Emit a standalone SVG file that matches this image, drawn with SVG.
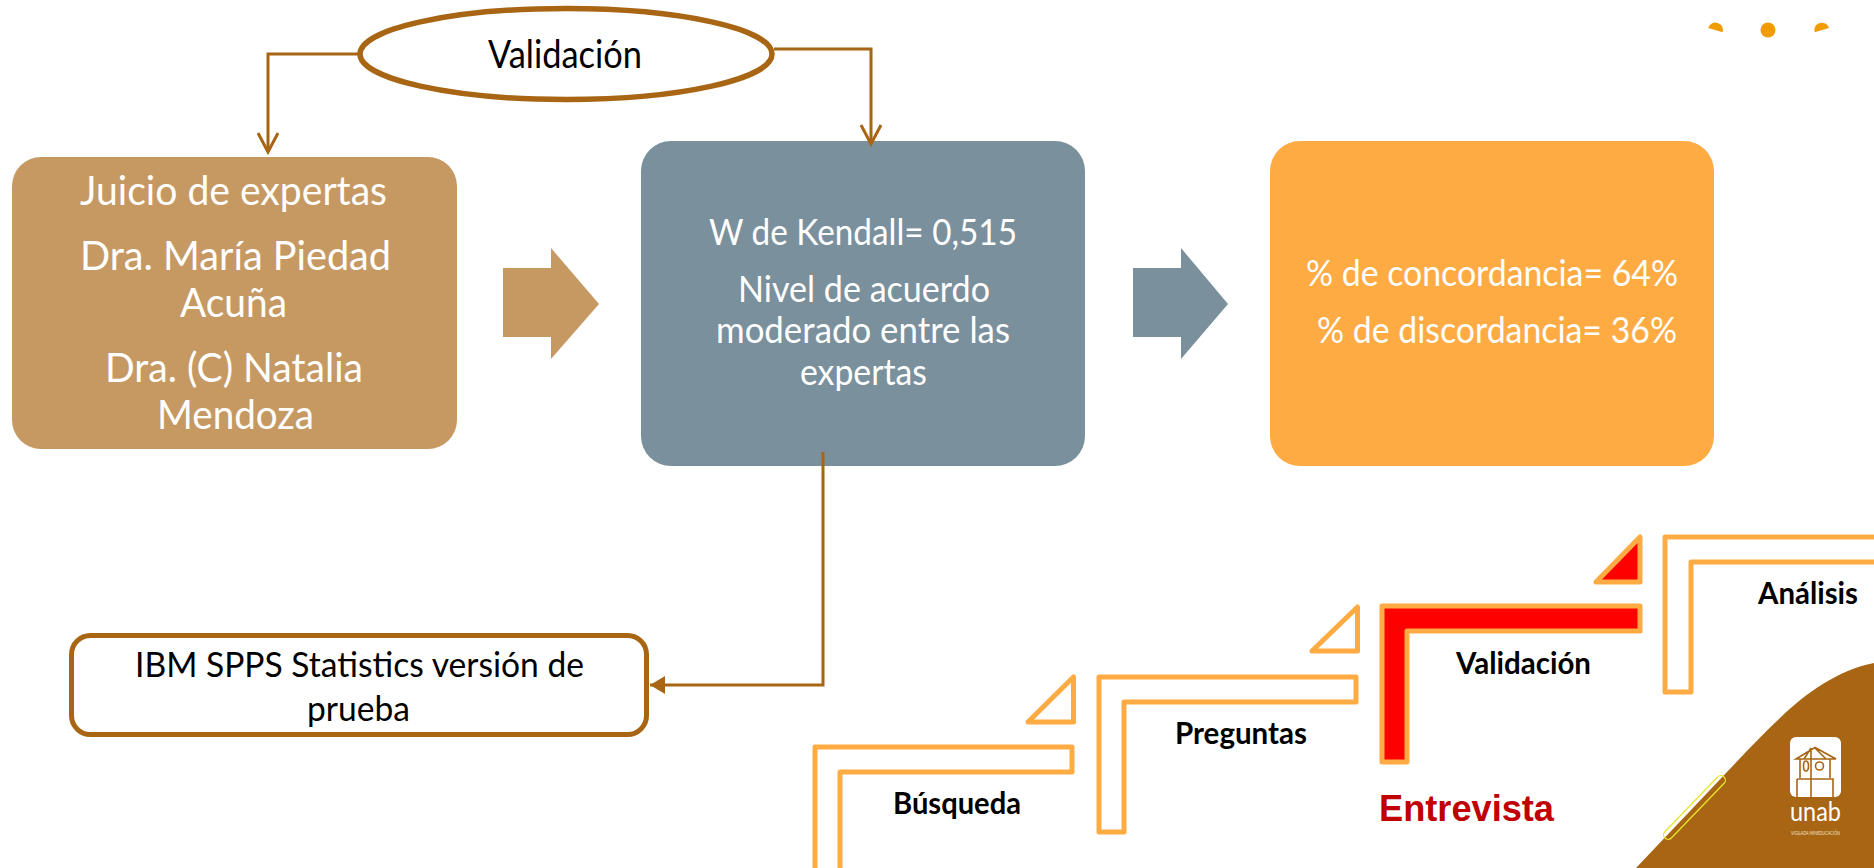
<svg xmlns="http://www.w3.org/2000/svg" width="1874" height="868" viewBox="0 0 1874 868">
<style>
.t{font-family:Lato,"Open Sans","Liberation Sans",sans-serif;text-anchor:start}
.w{fill:#fff;font-size:40px}
.m{fill:#fff;font-size:36px}
.k{fill:#000;font-size:38px}
.l{fill:#000;font-size:35px}
.b{fill:#000;font-size:30px;font-weight:700}
.c{fill:none;stroke:#A86513;stroke-width:3}
.s{fill:none;stroke:#FFAB44;stroke-width:5;stroke-linejoin:round}
.r{fill:#FF0000}
.h{fill:none;stroke:#A86513;stroke-width:1.6}
</style>
<defs>
<marker id="open" markerUnits="userSpaceOnUse" markerWidth="26" markerHeight="26" refX="21" refY="12" orient="auto"><path d="M2 2L21 12L2 22" fill="none" stroke="#A86513" stroke-width="3"/></marker>
<marker id="solid" markerUnits="userSpaceOnUse" markerWidth="18" markerHeight="20" refX="15" refY="9" orient="auto"><path d="M0 0L15 9L0 18Z" fill="#A86513"/></marker>
</defs>
<rect width="1874" height="868" fill="#fff"/>
<g id="dots" fill="#F09C00">
<path d="M1708.2 28A7.5 7.5 0 0 1 1722.7 32.3Z"/>
<circle cx="1768" cy="30" r="7.5"/>
<path d="M1814.6 32.3A7.5 7.5 0 0 1 1829 28Z"/>
</g>
<g id="corner">
<path d="M1636 868L1727 772C1745 753 1762 735 1780 718C1806 693 1838 670 1874 663V868Z" fill="#A86513"/>
<rect x="1652" y="803" width="85" height="9" rx="4.500" transform="rotate(-46 1694.5 807.5)" fill="none" stroke="#E6E62E" stroke-width="1.3"/>
</g>
<g id="logo">
<rect x="1790" y="737" width="51" height="60" rx="6" fill="#fff"/>
<path class="h" d="M1796 759L1815 747.5L1836 759ZM1800 759V778M1830 759V778M1797 779H1833V797M1797 779V797M1811 748V797M1804 759L1811 748M1826 759L1815 748"/>
<ellipse class="h" cx="1806" cy="766" rx="2.500" ry="5"/>
<circle class="h" cx="1819.5" cy="766" r="4"/>
<text class="t" x="1790" y="821" font-size="27" fill="#fff" textLength="51" lengthAdjust="spacingAndGlyphs">unab</text>
<text class="t" x="1791" y="835" font-size="6" fill="#F3E3D0" textLength="49" lengthAdjust="spacingAndGlyphs">VIGILADA MINEDUCACIÓN</text>
</g>
<g id="validacion-oval">
<ellipse cx="566" cy="54" rx="206" ry="45.500" fill="#fff" stroke="#A86513" stroke-width="5.500"/>
<text class="t k" x="488" y="68" textLength="154" lengthAdjust="spacingAndGlyphs">Validación</text>
</g>
<g id="juicio">
<rect x="12" y="157" width="445" height="292" rx="29" fill="#C69963"/>
<g class="t w">
<text x="80" y="205" textLength="307" lengthAdjust="spacingAndGlyphs">Juicio de expertas</text>
<text x="80" y="270" textLength="311" lengthAdjust="spacingAndGlyphs">Dra. María Piedad</text>
<text x="180" y="317" textLength="107" lengthAdjust="spacingAndGlyphs">Acuña</text>
<text x="105" y="382" textLength="258" lengthAdjust="spacingAndGlyphs">Dra. (C) Natalia</text>
<text x="157" y="429" textLength="157" lengthAdjust="spacingAndGlyphs">Mendoza</text>
</g>
</g>
<g id="arrow-1"><path d="M503 268H551V248L599 304L551 359V337H503Z" fill="#C69963"/></g>
<g id="kendall">
<rect x="641" y="141" width="444" height="325" rx="30" fill="#7A909C"/>
<g class="t m">
<text x="709" y="245" textLength="308" lengthAdjust="spacingAndGlyphs">W de Kendall= 0,515</text>
<text x="738" y="302" textLength="252" lengthAdjust="spacingAndGlyphs">Nivel de acuerdo</text>
<text x="716" y="343" textLength="294" lengthAdjust="spacingAndGlyphs">moderado entre las</text>
<text x="800" y="385" textLength="127" lengthAdjust="spacingAndGlyphs">expertas</text>
</g>
</g>
<g id="arrow-2"><path d="M1133 268H1181V248L1228 304L1181 359V337H1133Z" fill="#7A909C"/></g>
<g id="concordancia">
<rect x="1270" y="141" width="444" height="325" rx="30" fill="#FFAB44"/>
<g class="t m">
<text x="1306" y="286" textLength="372" lengthAdjust="spacingAndGlyphs">% de concordancia= 64%</text>
<text x="1317" y="343" textLength="360" lengthAdjust="spacingAndGlyphs">% de discordancia= 36%</text>
</g>
</g>
<g id="spss">
<rect x="71.500" y="635.500" width="575" height="99" rx="19" fill="#fff" stroke="#A86513" stroke-width="5"/>
<text class="t l" x="135" y="677" textLength="449" lengthAdjust="spacingAndGlyphs">IBM SPPS Statistics versión de</text>
<text class="t l" x="307" y="721" textLength="103" lengthAdjust="spacingAndGlyphs">prueba</text>
</g>
<g id="busqueda">
<path class="s" d="M1028 722L1073.500 677V722Z"/>
<path class="s" d="M815 875V747H1072V772H840V875"/>
<text class="t b" x="893" y="814" textLength="128" lengthAdjust="spacingAndGlyphs">Búsqueda</text>
</g>
<g id="preguntas">
<path class="s" d="M1312 651L1357.500 607V651Z"/>
<path class="s" d="M1099 677H1356V702H1124V832H1099Z"/>
<text class="t b" x="1175" y="744" textLength="132" lengthAdjust="spacingAndGlyphs">Preguntas</text>
</g>
<g id="validacion-step">
<path class="s r" d="M1596 582L1640 537V582Z"/>
<path class="s r" d="M1382 606H1640V631H1407V762H1382Z"/>
<text class="t b" x="1456" y="674" textLength="135" lengthAdjust="spacingAndGlyphs">Validación</text>
</g>
<g id="analisis">
<path class="s" d="M1880 537H1665V692H1691V562H1880"/>
<text class="t b" x="1758" y="604" textLength="100" lengthAdjust="spacingAndGlyphs">Análisis</text>
</g>
<text id="entrevista" x="1379" y="821" font-family="Liberation Sans, Arial, sans-serif" font-size="37" font-weight="700" fill="#C00000" textLength="175" lengthAdjust="spacingAndGlyphs">Entrevista</text>
<g id="connectors">
<path class="c" d="M358 54H268V152" marker-end="url(#open)"/>
<path class="c" d="M774 49H871V144" marker-end="url(#open)"/>
<path class="c" d="M823 452V685H650" marker-end="url(#solid)"/>
</g>
</svg>
